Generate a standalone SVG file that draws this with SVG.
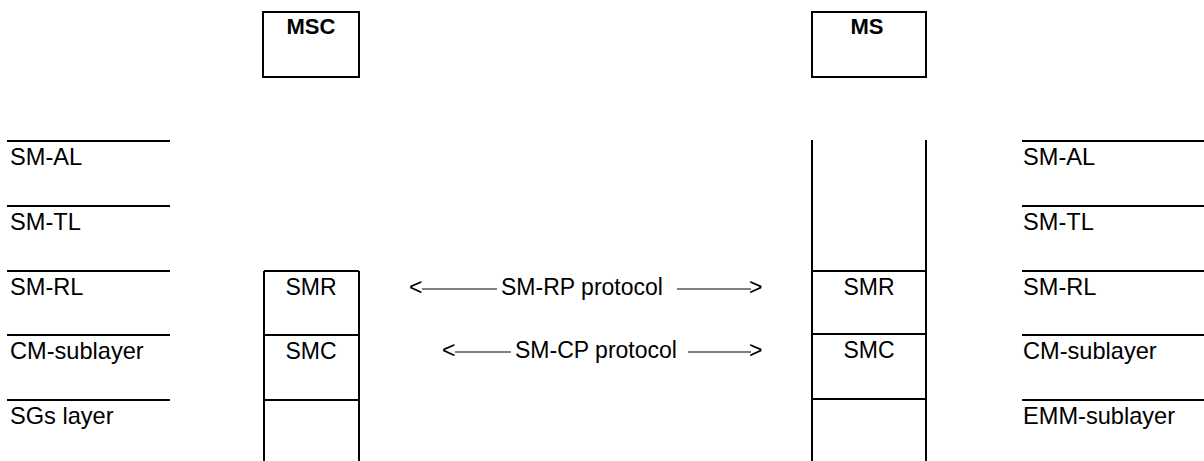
<svg xmlns="http://www.w3.org/2000/svg" width="1204" height="461" viewBox="0 0 1204 461">
<style>
text{font-family:"Liberation Sans",Arial,sans-serif;font-size:23px;fill:#000}
.lay text{font-size:23.6px}
.b{font-weight:bold;font-size:22px}
.m{text-anchor:middle}
.ln{stroke:#000;stroke-width:2;fill:none}
.ar{stroke:#000;stroke-width:1.2}
</style>
<rect width="1204" height="461" fill="#fff"/>
<g id="msc-box">
<rect x="263" y="12" width="96" height="65" class="ln"/>
<text x="311" y="34" class="b m">MSC</text>
</g>
<g id="ms-box">
<rect x="812" y="12" width="114" height="65" class="ln"/>
<text x="867" y="34" class="b m">MS</text>
</g>
<g id="left-layers" class="lay">
<line x1="7" y1="141" x2="170" y2="141" class="ln"/>
<line x1="7" y1="206" x2="170" y2="206" class="ln"/>
<line x1="7" y1="271" x2="170" y2="271" class="ln"/>
<line x1="7" y1="335" x2="170" y2="335" class="ln"/>
<line x1="7" y1="400" x2="170" y2="400" class="ln"/>
<text x="10" y="165">SM-AL</text>
<text x="10" y="230">SM-TL</text>
<text x="10" y="295">SM-RL</text>
<text x="10" y="359">CM-sublayer</text>
<text x="10" y="424">SGs layer</text>
</g>
<g id="right-layers" class="lay">
<line x1="1022" y1="141" x2="1204" y2="141" class="ln"/>
<line x1="1022" y1="206" x2="1204" y2="206" class="ln"/>
<line x1="1022" y1="271" x2="1204" y2="271" class="ln"/>
<line x1="1022" y1="335" x2="1204" y2="335" class="ln"/>
<line x1="1022" y1="400" x2="1204" y2="400" class="ln"/>
<text x="1023" y="165">SM-AL</text>
<text x="1023" y="230">SM-TL</text>
<text x="1023" y="295">SM-RL</text>
<text x="1023" y="359">CM-sublayer</text>
<text x="1023" y="424">EMM-sublayer</text>
</g>
<g id="msc-stack">
<line x1="264" y1="271" x2="264" y2="461" class="ln"/>
<line x1="359" y1="271" x2="359" y2="461" class="ln"/>
<line x1="264" y1="271" x2="359" y2="271" class="ln"/>
<line x1="264" y1="335" x2="359" y2="335" class="ln"/>
<line x1="264" y1="400" x2="359" y2="400" class="ln"/>
<text x="311" y="295" class="m">SMR</text>
<text x="311" y="359" class="m">SMC</text>
</g>
<g id="ms-stack">
<line x1="812" y1="140" x2="812" y2="461" class="ln"/>
<line x1="926" y1="140" x2="926" y2="461" class="ln"/>
<line x1="812" y1="271" x2="926" y2="271" class="ln"/>
<line x1="812" y1="334" x2="926" y2="334" class="ln"/>
<line x1="812" y1="399" x2="926" y2="399" class="ln"/>
<text x="869" y="295" class="m">SMR</text>
<text x="869" y="358" class="m">SMC</text>
</g>
<g id="connectors">
<text x="409" y="295">&lt;</text>
<line x1="422" y1="289" x2="497" y2="289" class="ar"/>
<text x="501" y="295">SM-RP protocol</text>
<line x1="677" y1="289" x2="751" y2="289" class="ar"/>
<text x="749" y="295">&gt;</text>
<text x="442" y="358">&lt;</text>
<line x1="455" y1="352" x2="511" y2="352" class="ar"/>
<text x="515" y="358">SM-CP protocol</text>
<line x1="688" y1="352" x2="751" y2="352" class="ar"/>
<text x="749" y="358">&gt;</text>
</g>
</svg>
